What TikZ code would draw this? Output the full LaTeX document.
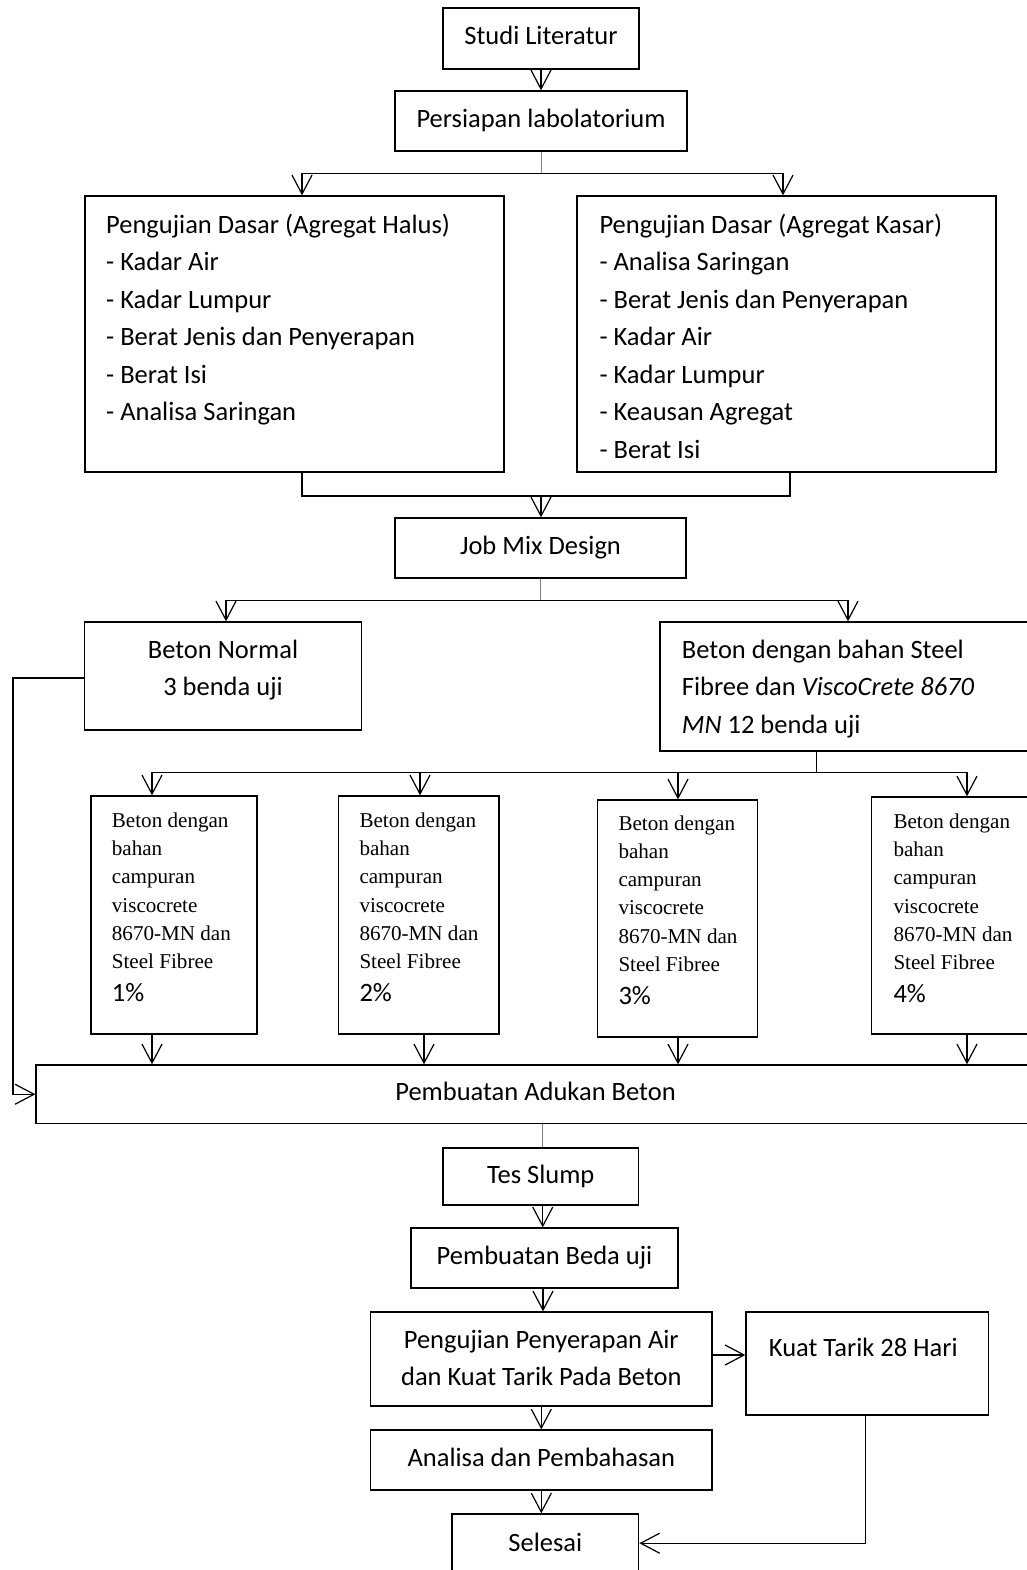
\documentclass[tikz,border=0pt]{standalone}
\usepackage{fontspec}
\setmainfont{Carlito}
\newfontfamily\tnr{Liberation Serif}
\newfontfamily\carl{Carlito}
\usetikzlibrary{arrows.meta}
\newcommand\mainsz{\fontsize{26.5}{37.5}\selectfont}
\newcommand\smallsz{\tnr\fontsize{21.1}{28.3}\selectfont}
\newcommand\smalltext[1]{\begin{tabular}[t]{@{}l@{}}Beton dengan\\bahan\\campuran\\viscocrete\\8670-MN dan\\Steel Fibree\\[4.7pt]{\carl\mainsz #1}\end{tabular}}
\begin{document}
\begin{tikzpicture}[x=1pt,y=-1pt,
  box/.style={draw, line width=1.3pt, inner sep=0pt, text height=17pt, text depth=4pt, font=\mainsz},
  line/.style={line width=1.2pt},
  gline/.style={line width=1pt, gray},
  arr/.style={line width=1.2pt, -{Straight Barb[length=19pt,width=20pt]}},
  txt/.style={inner sep=0pt, font=\mainsz},
  stxt/.style={inner sep=0pt, font=\smallsz, anchor=base west}]
\clip (0,0) rectangle (1027,1570);
\fill[white] (0,0) rectangle (1027,1570);

% boxes
\node[box, minimum width=196pt, minimum height=61pt] (studi) at (541,38.5) {Studi Literatur};
\node[box, minimum width=292pt, minimum height=60pt] (persiapan) at (541,121) {Persiapan labolatorium};
\node[box, minimum width=419pt, minimum height=276pt] (halus) at (294.5,334) {};
\node[box, minimum width=419pt, minimum height=276pt] (kasar) at (786.5,334) {};
\node[box, minimum width=291pt, minimum height=60pt] (jobmix) at (540.5,548) {Job Mix Design};
\node[box, minimum width=277pt, minimum height=108pt] (normal) at (223,676) {};
\node[box, minimum width=385pt, minimum height=129pt] (steel) at (852.5,686.5) {};
\node[box, minimum width=166pt, minimum height=238pt] (s1) at (174,915) {};
\node[box, minimum width=160.4pt, minimum height=238pt] (s2) at (418.8,915) {};
\node[box, minimum width=160pt, minimum height=237pt] (s3) at (677.7,918.5) {};
\node[box, minimum width=173.4pt, minimum height=237pt] (s4) at (958.3,915.5) {};
\node[box, minimum width=999pt, minimum height=58.5pt] (pembuatan) at (535.5,1094.25) {Pembuatan Adukan Beton};
\node[box, minimum width=195.5pt, minimum height=57pt] (tes) at (540.75,1176.5) {Tes Slump};
\node[box, minimum width=267pt, minimum height=60pt] (beda) at (544.5,1258) {Pembuatan Beda uji};
\node[box, minimum width=341.4pt, minimum height=94pt] (pengujian) at (541.3,1359) {};
\node[box, minimum width=242.5pt, minimum height=103pt] (kuat) at (867.25,1363.5) {};
\node[box, minimum width=341.4pt, minimum height=60pt] (analisa) at (541.3,1460) {Analisa dan Pembahasan};
\node[box, minimum width=186.7pt, minimum height=62.4pt] (selesai) at (545.35,1545.2) {Selesai};

% texts
\node[txt, anchor=base west] (thalus) at (106,233.3) {\begin{tabular}[t]{@{}l@{}}Pengujian Dasar (Agregat Halus)\\- Kadar Air\\- Kadar Lumpur\\- Berat Jenis dan Penyerapan\\- Berat Isi\\- Analisa Saringan\end{tabular}};
\node[txt, anchor=base west] (tkasar) at (599.3,233.3) {\begin{tabular}[t]{@{}l@{}}Pengujian Dasar (Agregat Kasar)\\- Analisa Saringan\\- Berat Jenis dan Penyerapan\\- Kadar Air\\- Kadar Lumpur\\- Keausan Agregat\\- Berat Isi\end{tabular}};
\node[txt, anchor=base] (tnormal) at (223,658) {\begin{tabular}[t]{@{}c@{}}Beton Normal\\3 benda uji\end{tabular}};
\node[txt, anchor=base west] (tsteel) at (681.7,658) {\begin{tabular}[t]{@{}l@{}}Beton dengan bahan Steel\\Fibree dan \textit{ViscoCrete 8670}\\\textit{MN} 12 benda uji\end{tabular}};
\node[stxt] (ts1) at (111.7,827.3) {\smalltext{1\%}};
\node[stxt] (ts2) at (359.3,827.3) {\smalltext{2\%}};
\node[stxt] (ts3) at (618.3,830) {\smalltext{3\%}};
\node[stxt] (ts4) at (893.3,828.3) {\smalltext{4\%}};
\node[txt, anchor=base] (tpeng) at (541.3,1348.3) {\begin{tabular}[t]{@{}c@{}}Pengujian Penyerapan Air\\dan Kuat Tarik Pada Beton\end{tabular}};
\node[txt, anchor=base] (tkuat) at (863.3,1356) {Kuat Tarik 28 Hari};

% coordinates
\coordinate (b1) at (541,173.3);
\coordinate (m1) at (541,496);
\coordinate (b2) at (540.5,600.7);
\coordinate (b3) at (816.7,772.3);
\coordinate (fb) at (13,678);

% connectors
\draw[arr] (studi) -- (persiapan);
\draw[gline] (persiapan.south) -- (b1);
\draw[arr] (b1) -| ([xshift=7.5pt]halus.north);
\draw[arr] (b1) -| ([xshift=-3.5pt]kasar.north);
\draw[line] ([xshift=7.5pt]halus.south) |- (m1) -| ([xshift=3.5pt]kasar.south);
\draw[arr] (m1) -- (m1 |- jobmix.north);
\draw[gline] (jobmix.south) -- (b2);
\draw[arr] (b2) -| ([xshift=3pt]normal.north);
\draw[arr] (b2) -| ([xshift=-4.5pt]steel.north);
\draw[arr] ([yshift=-2pt]normal.west) -- (fb) |- (pembuatan.west);
\draw[line] ([xshift=-35.8pt]steel.south) -- (b3);
\draw[arr] (b3) -| ([xshift=-22pt]s1.north);
\draw[arr] (b3) -| ([xshift=1.2pt]s2.north);
\draw[arr] (b3) -| ([xshift=0.3pt]s3.north);
\draw[arr] (b3) -| ([xshift=8.7pt]s4.north);
\draw[arr] ([xshift=-22pt]s1.south) -- ([xshift=-22pt]s1.south |- pembuatan.north);
\draw[arr] ([xshift=5.2pt]s2.south) -- ([xshift=5.2pt]s2.south |- pembuatan.north);
\draw[arr] ([xshift=0.3pt]s3.south) -- ([xshift=0.3pt]s3.south |- pembuatan.north);
\draw[arr] ([xshift=8.7pt]s4.south) -- ([xshift=8.7pt]s4.south |- pembuatan.north);
\draw[gline] ([xshift=2pt]tes.north |- pembuatan.south) -- ([xshift=2pt]tes.north);
\draw[arr] ([xshift=2pt]tes.south) -- ([xshift=2pt]tes.south |- beda.north);
\draw[arr] ([xshift=1.7pt]pengujian.north |- beda.south) -- ([xshift=1.7pt]pengujian.north);
\draw[arr] ([yshift=4pt]pengujian.east) -- ([yshift=4pt]pengujian.east -| kuat.west);
\draw[arr] (pengujian) -- (analisa);
\draw[arr] (analisa.south) -- (analisa.south |- selesai.north);
\draw[arr] ([xshift=-1.75pt]kuat.south) |- ([yshift=2pt]selesai.east);
\end{tikzpicture}
\end{document}
